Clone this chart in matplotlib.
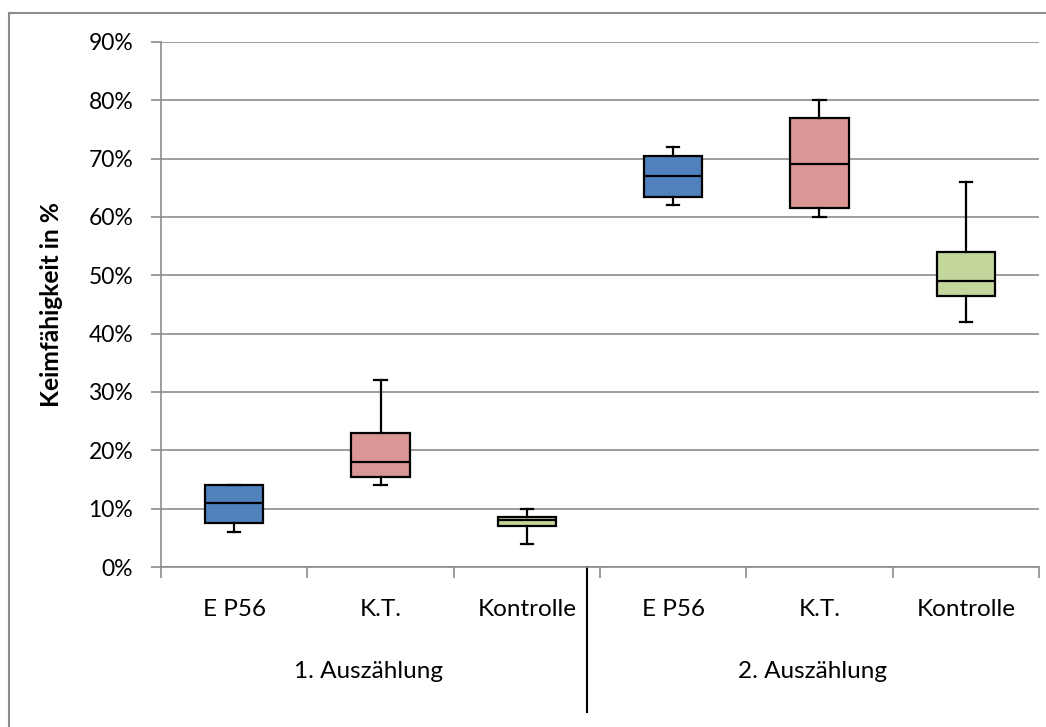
import matplotlib
matplotlib.use("Agg")
import matplotlib.pyplot as plt
from matplotlib.lines import Line2D

# data (values in %)
categories = ["E P56", "K.T.", "Kontrolle", "E P56", "K.T.", "Kontrolle"]
groups = ["1. Auszählung", "2. Auszählung"]
whis_low = [6, 14, 4, 62, 60, 42]
q1 = [7.5, 15.5, 7, 63.5, 61.5, 46.5]
median = [11, 18, 8, 67, 69, 49]
q3 = [14, 23, 8.5, 70.5, 77, 54]
whis_high = [14, 32, 10, 72, 80, 66]
colors = ["#4F81BD", "#D99694", "#C3D69B", "#4F81BD", "#D99694", "#C3D69B"]
yticks = [0, 10, 20, 30, 40, 50, 60, 70, 80, 90]

plt.rcParams['font.family'] = ['Lato', 'DejaVu Sans']

fig = plt.figure(figsize=(10.46, 7.27), dpi=100)
ax = fig.add_axes([161 / 1046, 1 - 567 / 727, (1039 - 161) / 1046, (567 - 42) / 727])

stats = []
for i in range(len(categories)):
    stats.append({"whislo": whis_low[i], "q1": q1[i], "med": median[i],
                  "q3": q3[i], "whishi": whis_high[i], "fliers": []})

pos = list(range(len(categories)))
lw = 1.6
bp = ax.bxp(stats, positions=pos, widths=0.4, capwidths=0.085, patch_artist=True,
            showfliers=False,
            boxprops=dict(linewidth=lw, edgecolor="black"),
            medianprops=dict(color="black", linewidth=lw),
            whiskerprops=dict(color="black", linewidth=lw),
            capprops=dict(color="black", linewidth=lw))
for patch, c in zip(bp["boxes"], colors):
    patch.set_facecolor(c)

ax.set_xlim(-0.5, 5.5)
ax.set_ylim(0, 90)
ax.set_yticks(yticks)
ax.set_yticklabels([f"{t}%" for t in yticks], fontsize=16.5)
ax.yaxis.grid(True, color="#8C8C8C", linewidth=1.2)
ax.set_axisbelow(True)

ax.set_xticks(pos)
ax.set_xticklabels(categories, fontsize=17.5)
ax.set_xticks([p - 0.5 for p in pos] + [5.5], minor=True)
ax.tick_params(axis="x", which="major", length=0, pad=23)
ax.tick_params(axis="x", which="minor", length=8, color="#8C8C8C", width=1.2)
ax.tick_params(axis="y", length=7, color="#8C8C8C", width=1.2, pad=13)

for s in ["top", "right"]:
    ax.spines[s].set_visible(False)
for s in ["left", "bottom"]:
    ax.spines[s].set_color("#8C8C8C")
    ax.spines[s].set_linewidth(1.2)

ax.set_ylabel("Keimfähigkeit in %", fontsize=17.7, fontweight="bold")
ax.yaxis.set_label_coords(-0.1116, 0.5)

# group labels below the category labels
trans = ax.get_xaxis_transform()
ax.text(0.92, -0.2, groups[0], transform=trans, ha="center", va="center", fontsize=17.5)
ax.text(3.95, -0.2, groups[1], transform=trans, ha="center", va="center", fontsize=17.5)
ax.add_line(Line2D([2.41, 2.41], [0, -0.276], transform=trans, color="black",
                   linewidth=1.5, clip_on=False))

# chart frame (left and top edges visible)
fig.add_artist(Line2D([9 / 1046, 9 / 1046], [0, 1 - 13 / 727], color="#8C8C8C", linewidth=1.5))
fig.add_artist(Line2D([9 / 1046, 1], [1 - 13 / 727, 1 - 13 / 727], color="#8C8C8C", linewidth=1.5))

fig.savefig("out.png", dpi=100)
